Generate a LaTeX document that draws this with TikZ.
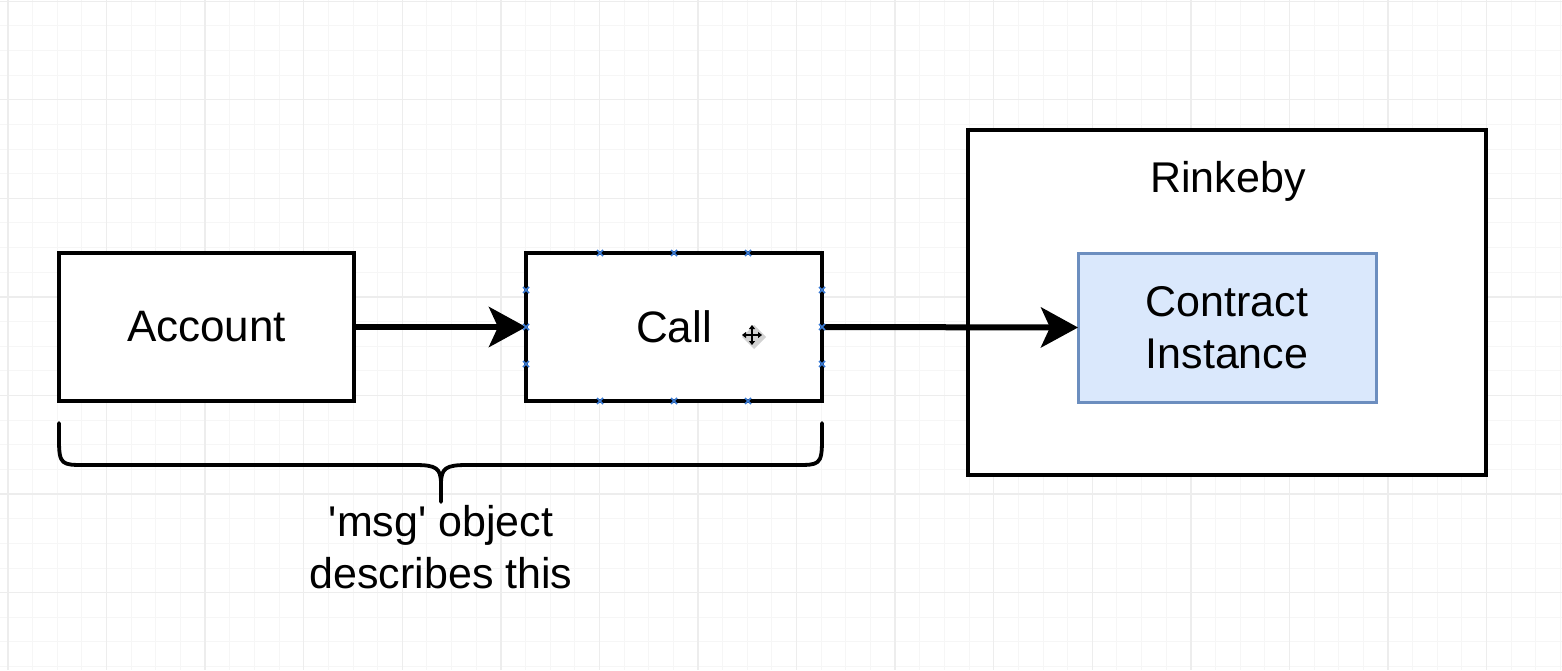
\documentclass[tikz,border=0pt]{standalone}
\usepackage{fontspec}
\newfontfamily\hv{Liberation Sans}
\usetikzlibrary{arrows.meta,calc}
\definecolor{gridminor}{HTML}{F6F6F6}
\definecolor{gridmajor}{HTML}{EDEDED}
\definecolor{cifill}{HTML}{DAE8FC}
\definecolor{ciline}{HTML}{6C8EBF}
\definecolor{handle}{HTML}{3A7BD5}
\tikzset{
  box/.style={draw=black, line width=4.5pt, rectangle, inner sep=0pt, outer sep=0pt, fill=white,
              font=\hv\fontsize{44}{52}\selectfont, align=center},
  cibox/.style={box, draw=ciline, line width=3pt, fill=cifill},
  lbl/.style={inner sep=0pt, outer sep=0pt, font=\hv\fontsize{43}{52}\selectfont, align=center},
  arr/.style={line width=6pt, -{Stealth[length=37pt, width=40pt, inset=9pt]}},
  bracepath/.style={line width=3.8pt, line cap=round, line join=round},
  hdl/.style={draw=handle, line width=1.6pt},
}
\begin{document}
\begin{tikzpicture}[x=1pt,y=-1pt]
\useasboundingbox (0,0) rectangle (1562,670);
\fill[white] (0,0) rectangle (1562,670);
% background grid
\foreach \i in {0,...,63} {
  \draw[gridminor, line width=1pt] ({8+24.643*\i},0) -- ({8+24.643*\i},670);
}
\foreach \j in {0,...,27} {
  \draw[gridminor, line width=1pt] (0,{1.2+24.643*\j}) -- (1562,{1.2+24.643*\j});
}
\foreach \i in {0,...,15} {
  \draw[gridmajor, line width=1.3pt] ({8+98.57*\i},0) -- ({8+98.57*\i},670);
}
\foreach \j in {0,...,6} {
  \draw[gridmajor, line width=1.3pt] (0,{1.2+98.57*\j}) -- (1562,{1.2+98.57*\j});
}

% nodes
\node[box, minimum width=295pt, minimum height=148pt] (acc) at (206.5,327) {\raisebox{-2pt}{Account}};
\node[box, minimum width=296pt, minimum height=148pt] (call) at (674,327) {\raisebox{-2pt}{Call}};
\node[box, minimum width=518pt, minimum height=345pt] (rink) at (1227,302.5) {};
\node[lbl, anchor=base] (rinklbl) at (1228,192) {Rinkeby};
\node[cibox, font=\hv\fontsize{43}{52}\selectfont, minimum width=298pt, minimum height=149pt] (ci) at (1227,327.5) {Contract\\Instance};

% connectors
\draw[arr] (acc.east) -- (call.west);
\draw[arr] (call.east) -- (ci.west);

% selection handles on Call
\foreach \t in {0.25,0.5,0.75} {
  \coordinate (ht) at ($(call.north west)!\t!(call.north east)$);
  \coordinate (hb) at ($(call.south west)!\t!(call.south east)$);
  \coordinate (hl) at ($(call.north west)!\t!(call.south west)$);
  \coordinate (hr) at ($(call.north east)!\t!(call.south east)$);
  \foreach \c in {ht,hb,hl,hr} {
    \draw[hdl] ($(\c)+(-3,-3)$) -- ($(\c)+(3,3)$);
    \draw[hdl] ($(\c)+(-3,3)$) -- ($(\c)+(3,-3)$);
  }
}

% move cursor
\coordinate (cur) at (752,335);
\fill[gray!35] ($(cur)+(2,-10)$) -- ($(cur)+(14,2)$) -- ($(cur)+(2,14)$) -- ($(cur)+(-10,2)$) -- cycle;
\draw[line width=1.8pt, {Triangle[length=4pt,width=6pt]}-{Triangle[length=4pt,width=6pt]}] ($(cur)+(-10,0)$) -- ($(cur)+(10,0)$);
\draw[line width=1.8pt, {Triangle[length=4pt,width=6pt]}-{Triangle[length=4pt,width=6pt]}] ($(cur)+(0,-10)$) -- ($(cur)+(0,10)$);

% brace under Account and Call
\coordinate (bl) at (59,423);
\coordinate (br) at (822,423);
\coordinate (bm) at (441,502);
\draw[bracepath] (bl) -- (59,440) .. controls (59,465) and (62,465) .. (85,465) -- (415,465)
   .. controls (436,465) and (441,468) .. (441,484) -- (bm);
\draw[bracepath] (br) -- (822,440) .. controls (822,465) and (819,465) .. (796,465) -- (467,465)
   .. controls (446,465) and (441,468) .. (441,484);
\node[lbl, anchor=north] (msg) at (441,505) {\symbol{39}msg\symbol{39} object\\describes this};
\end{tikzpicture}
\end{document}
